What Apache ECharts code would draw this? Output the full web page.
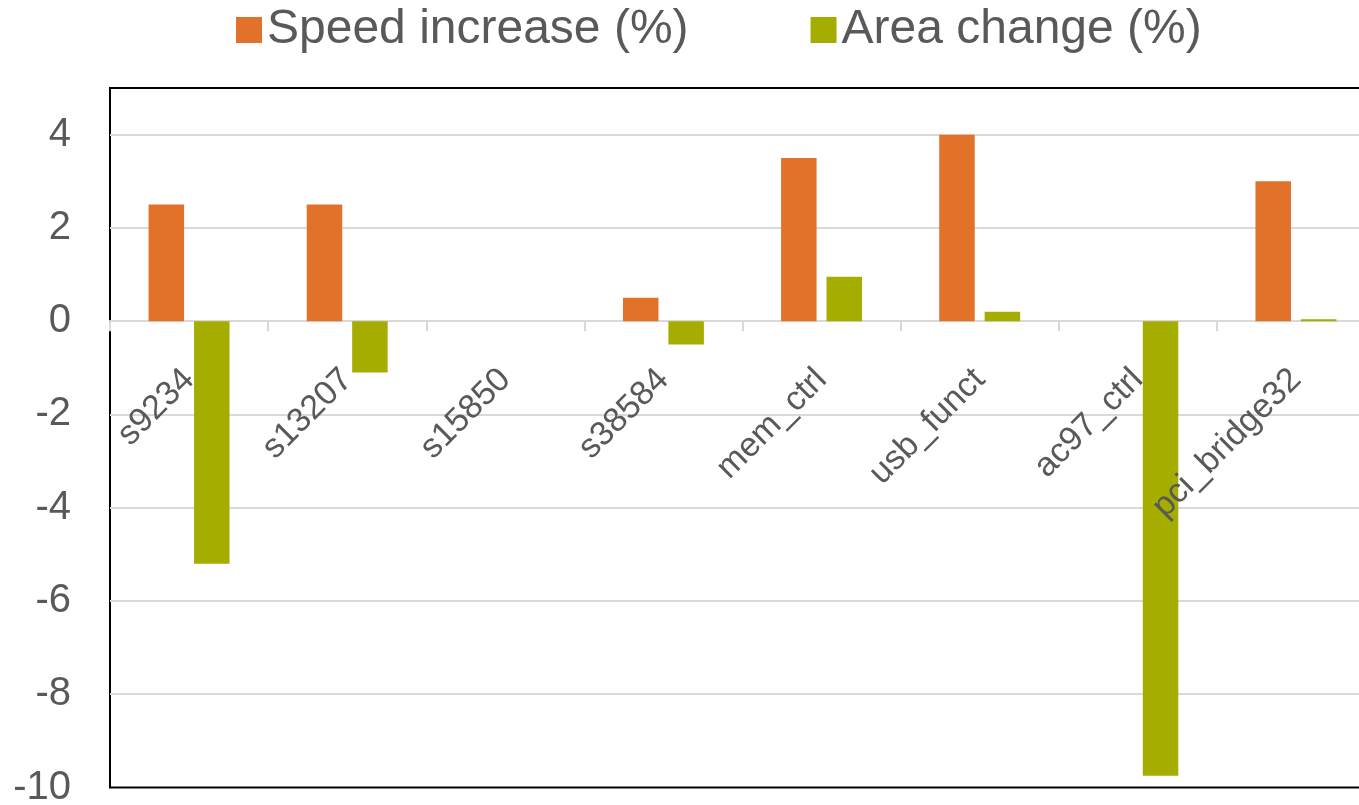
<!DOCTYPE html>
<html>
<head>
<meta charset="utf-8">
<script src="https://cdn.jsdelivr.net/npm/echarts@6/dist/echarts.min.js"></script>
<style>
html,body{margin:0;padding:0;background:#fff;}
#chart{width:1359px;height:805px;}
</style>
</head>
<body>
<div id="chart"></div>
<script>
var categories = ['s9234', 's13207', 's15850', 's38584', 'mem_ctrl', 'usb_funct', 'ac97_ctrl', 'pci_bridge32'];
var speedIncrease = [2.5, 2.5, 0, 0.5, 3.5, 4.0, 0, 3.0];
var areaChange = [-5.2, -1.1, 0, -0.5, 0.95, 0.2, -9.75, 0.04];
var seriesNames = ['Speed increase (%)', 'Area change (%)'];

var FONT = '"Liberation Sans", Arial, sans-serif';
var chart = echarts.init(document.getElementById('chart'));
chart.setOption({
  animation: false,
  backgroundColor: '#ffffff',
  legend: {
    left: 231,
    top: 1,
    itemWidth: 26,
    itemHeight: 26,
    itemGap: 122,
    icon: 'rect',
    textStyle: { fontFamily: FONT, fontSize: 48, color: '#595959' },
    data: seriesNames
  },
  grid: {
    left: 110,
    top: 88,
    width: 1265,
    height: 699.5,
    show: true,
    borderColor: '#000000',
    borderWidth: 2,
    containLabel: false,
    outerBoundsMode: 'none'
  },
  xAxis: [
    {
      type: 'category',
      data: categories,
      position: 'bottom',
      z: 1,
      axisLine: { onZero: true, lineStyle: { color: '#d9d9d9', width: 2 } },
      axisTick: { show: true, length: 10, interval: 0, lineStyle: { color: '#d9d9d9', width: 2 } },
      axisLabel: { show: false },
      splitLine: { show: false }
    },
    {
      type: 'category',
      data: categories,
      position: 'bottom',
      z: 5,
      axisLine: { show: false, onZero: true },
      axisTick: { show: false },
      axisLabel: {
        interval: 0,
        rotate: 45,
        margin: -413,
        fontFamily: FONT,
        fontSize: 34,
        color: '#595959'
      },
      splitLine: { show: false }
    }
  ],
  yAxis: {
    type: 'value',
    min: -10,
    max: 5,
    interval: 2,
    axisLine: { show: false },
    axisTick: { show: false },
    axisLabel: {
      showMaxLabel: false,
      margin: 39,
      fontFamily: FONT,
      fontSize: 40,
      color: '#595959'
    },
    splitLine: { show: true, showMinLine: false, showMaxLine: false, lineStyle: { color: '#d9d9d9', width: 2 } }
  },
  series: [
    {
      name: seriesNames[0],
      type: 'bar',
      xAxisIndex: 0,
      data: speedIncrease,
      barWidth: 35.5,
      barGap: '28%',
      itemStyle: { color: '#E2722A' }
    },
    {
      name: seriesNames[1],
      type: 'bar',
      xAxisIndex: 0,
      data: areaChange,
      barWidth: 35.5,
      barGap: '28%',
      itemStyle: { color: '#A5AE00' }
    }
  ]
});
</script>
</body>
</html>
